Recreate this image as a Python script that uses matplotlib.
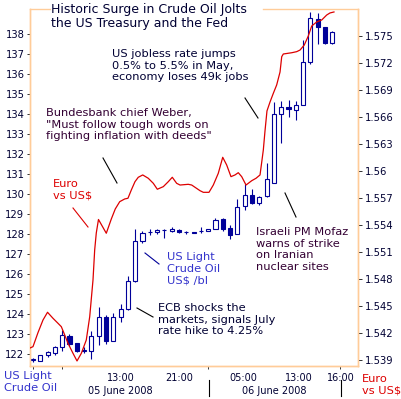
"""
Crude oil vs EUR/USD, 5-6 June 2008 - hourly candles for oil,
Euro line on the right axis, with news annotations.
"""

import matplotlib.pyplot as plt
from matplotlib.lines import Line2D

# ── Data ─────────────────────────────────────────────────────────────────────
# hourly US light crude candles (US$/bl), index 0 = 01:00 on 5 June
oil_open  = [121.70, 121.65, 121.93, 122.07, 122.37, 122.90, 122.53, 122.17,
             122.17, 122.92, 123.83, 122.67, 123.83, 124.23, 125.67, 127.67,
             128.10, 128.10, 128.20, 128.17, 128.20, 128.08, 128.08, 128.15,
             128.15, 128.23, 128.73, 128.28, 127.98, 129.40, 129.95, 129.55,
             129.90, 130.55, 134.00, 134.35, 134.20, 134.45, 136.60, 138.75,
             138.35, 137.55]
oil_high  = [121.78, 121.97, 122.17, 122.42, 123.18, 122.98, 122.57, 122.37,
             123.15, 124.33, 123.93, 124.03, 124.48, 125.92, 128.23, 128.15,
             128.25, 128.25, 128.23, 128.33, 128.27, 128.13, 128.12, 128.33,
             128.27, 128.78, 128.82, 128.45, 129.73, 130.50, 130.25, 129.90,
             131.55, 134.60, 134.65, 134.70, 134.65, 137.70, 139.10, 139.05,
             138.35, 138.15]
oil_low   = [121.58, 121.65, 121.87, 121.95, 122.17, 122.42, 122.12, 122.03,
             121.75, 122.45, 122.52, 122.67, 123.60, 124.20, 125.60, 127.57,
             127.95, 128.00, 127.80, 128.12, 128.03, 128.00, 128.03, 128.07,
             128.15, 128.23, 128.17, 127.73, 127.98, 129.20, 129.50, 129.45,
             129.85, 130.55, 132.55, 133.85, 133.70, 134.45, 136.50, 137.50,
             137.50, 137.50]
oil_close = [121.75, 121.95, 122.10, 122.35, 122.95, 122.50, 122.17, 122.17,
             122.90, 123.83, 122.67, 123.83, 124.23, 125.67, 127.67, 128.03,
             128.10, 128.18, 128.20, 128.25, 128.10, 128.08, 128.07, 128.17,
             128.27, 128.70, 128.23, 127.95, 129.33, 129.95, 129.55, 129.85,
             130.75, 134.00, 134.35, 134.25, 134.45, 136.60, 138.80, 138.35,
             137.55, 138.10]

# EUR/USD, position in hours on the same scale as the candles
euro_hour = [-0.41, 0.00, 0.68, 1.37, 1.99, 2.74, 3.42, 3.88, 4.25, 4.79,
             5.48, 6.03, 6.62, 7.30, 7.77, 8.22, 8.45, 8.67, 8.97, 10.04,
             10.73, 11.27, 11.88, 12.56, 13.01, 13.47, 13.97, 14.42, 15.03,
             15.79, 16.48, 17.03, 17.85, 18.53, 19.08, 19.68, 20.14, 21.27,
             21.74, 22.88, 23.33, 24.11, 24.70, 25.38, 25.99, 26.53, 27.12,
             27.67, 28.12, 28.59, 29.18, 29.96, 30.55, 31.10, 31.37, 31.55,
             31.78, 32.05, 32.47, 32.92, 33.38, 33.84, 34.07, 34.29, 35.44,
             36.12, 36.58, 37.16, 37.71, 38.18, 38.86, 39.55, 40.23, 40.68,
             41.23]
euro_rate = [1.54033, 1.54048, 1.54203, 1.54344, 1.54430, 1.54363, 1.54308,
             1.54270, 1.54197, 1.54086, 1.53974, 1.53889, 1.53974, 1.54122,
             1.54381, 1.54789, 1.55122, 1.55311, 1.55461, 1.55308, 1.55467,
             1.55578, 1.55659, 1.55689, 1.55697, 1.55789, 1.55881, 1.55930,
             1.55956, 1.55919, 1.55863, 1.55797, 1.55826, 1.55881, 1.55930,
             1.55863, 1.55844, 1.55852, 1.55844, 1.55781, 1.55763, 1.55763,
             1.55844, 1.55974, 1.56152, 1.56067, 1.55937, 1.55956, 1.55981,
             1.55937, 1.55844, 1.55892, 1.55919, 1.55956, 1.56122, 1.56233,
             1.56444, 1.56667, 1.56767, 1.56863, 1.56956, 1.57100, 1.57270,
             1.57300, 1.57314, 1.57326, 1.57344, 1.57400, 1.57500, 1.57611,
             1.57656, 1.57678, 1.57733, 1.57756, 1.57767]

oil_ticks  = list(range(122, 139))
euro_ticks = [1.539, 1.542, 1.545, 1.548, 1.551, 1.554, 1.557, 1.560,
              1.563, 1.566, 1.569, 1.572, 1.575]

hour_ticks  = [0, 4, 24, 42]
time_labels = ["13:00", "21:00", "05:00", "13:00", "16:00"]
time_pos    = [12, 20, 28.8, 36.4, 42.1]
day_labels  = ["05 June 2008", "06 June 2008"]
day_pos     = [11.9, 33.0]
day_breaks  = [24.1, 42.2]

# ── Style ────────────────────────────────────────────────────────────────────
NAVY   = "#000099"
RED    = "#DD0000"
SPINE  = "#FFCC99"
DARK   = "#000033"
PURPLE = "#330033"
BLUE   = "#3333CC"
FS     = 8.2

plt.rcParams["font.family"] = ["DejaVu Sans"]

W, H = 402, 399
fig = plt.figure(figsize=(W / 100, H / 100), dpi=100)
ax = fig.add_axes([30 / W, 33 / H, 328 / W, 357 / H])
ax2 = ax.twinx()


def fx(px):
    return px / W


def fy(py):
    return 1 - py / H


# ── Candles ──────────────────────────────────────────────────────────────────
idx = range(len(oil_open))
ax.vlines(idx, oil_low, oil_high, color=NAVY, lw=0.8, zorder=2)
bottoms = [min(o, c) for o, c in zip(oil_open, oil_close)]
heights = [max(abs(c - o), 0.02) for o, c in zip(oil_open, oil_close)]
faces = [NAVY if c < o else "white" for o, c in zip(oil_open, oil_close)]
ax.bar(idx, heights, bottom=bottoms, width=0.55, color=faces,
       edgecolor=NAVY, linewidth=0.8, zorder=3)

ax.set_xlim(-0.41, 44.52)
ax.set_ylim(121.4, 139.25)
ax.set_yticks(oil_ticks)
ax.set_xticks(hour_ticks)
ax.set_xticklabels([])

# ── Euro line ────────────────────────────────────────────────────────────────
ax2.plot(euro_hour, euro_rate, color=RED, lw=0.9, zorder=4)
ax2.set_ylim(1.53833, 1.578)
ax2.set_yticks(euro_ticks)
ax2.set_yticklabels([f"{v:g}" for v in euro_ticks])

for a in (ax, ax2):
    for s in a.spines.values():
        s.set_color(SPINE)
        s.set_linewidth(1.0)
    a.spines["top"].set_visible(False)
ax.tick_params(axis="y", length=2.5, width=0.7, pad=1.5, labelsize=7.2,
               colors="#333333", labelcolor=DARK)
ax.tick_params(axis="x", length=2.5, width=0.7, colors="#333333")
ax2.tick_params(axis="y", length=3, width=0.7, pad=2, labelsize=7.2,
                colors="#333333", labelcolor=DARK)

# top frame is broken by the title
for x0, x1 in [(0, 0.061), (0.71, 1.0)]:
    ax2.add_line(Line2D([x0, x1], [1, 1], transform=ax2.transAxes,
                        color=SPINE, lw=1.0, clip_on=False))

# ── Bottom labels ────────────────────────────────────────────────────────────
tr = ax.get_xaxis_transform()
for lab, p in zip(time_labels, time_pos):
    ax.text(p, -0.021, lab, transform=tr, ha="center", va="top",
            fontsize=7, color=DARK)
for lab, p in zip(day_labels, day_pos):
    ax.text(p, -0.056, lab, transform=tr, ha="center", va="top",
            fontsize=7, color=DARK)
for p in day_breaks:
    ax.add_line(Line2D([p, p], [-0.04, -0.084], transform=tr,
                       color="black", lw=0.8, clip_on=False))

fig.text(fx(4), fy(371), "US Light\nCrude Oil", ha="left", va="top",
         fontsize=FS, color=BLUE)
fig.text(fx(362), fy(374), "Euro\nvs US$", ha="left", va="top",
         fontsize=FS, color=RED)

# ── Title and annotations ────────────────────────────────────────────────────
fig.text(fx(51), fy(3), "Historic Surge in Crude Oil Jolts\nthe US Treasury and the Fed",
         ha="left", va="top", fontsize=9, color=DARK, linespacing=1.1)

notes = [
    (112, 49, "US jobless rate jumps\n0.5% to 5.5% in May,\neconomy loses 49k jobs", DARK),
    (46, 108, "Bundesbank chief Weber,\n\"Must follow tough words on\nfighting inflation with deeds\"", PURPLE),
    (53, 179, "Euro\nvs US$", RED),
    (167, 252, "US Light\nCrude Oil\nUS$ /bl", BLUE),
    (158, 303, "ECB shocks the\nmarkets, signals July\nrate hike to 4.25%", DARK),
    (256, 227, "Israeli PM Mofaz\nwarns of strike\non Iranian\nnuclear sites", PURPLE),
]
for x, y, txt, col in notes:
    fig.text(fx(x), fy(y), txt, ha="left", va="top", fontsize=FS, color=col)

pointers = [
    ((245, 98), (258, 118), "black"),
    ((103, 158), (117, 183), "black"),
    ((73, 208), (88, 227), RED),
    ((145, 253), (159, 264), NAVY),
    ((137, 308), (153, 317), "black"),
    ((285, 193), (296, 217), "black"),
]
for (x0, y0), (x1, y1), col in pointers:
    fig.add_artist(Line2D([fx(x0), fx(x1)], [fy(y0), fy(y1)],
                          transform=fig.transFigure, color=col, lw=0.8))

fig.savefig("out.png", dpi=100)
